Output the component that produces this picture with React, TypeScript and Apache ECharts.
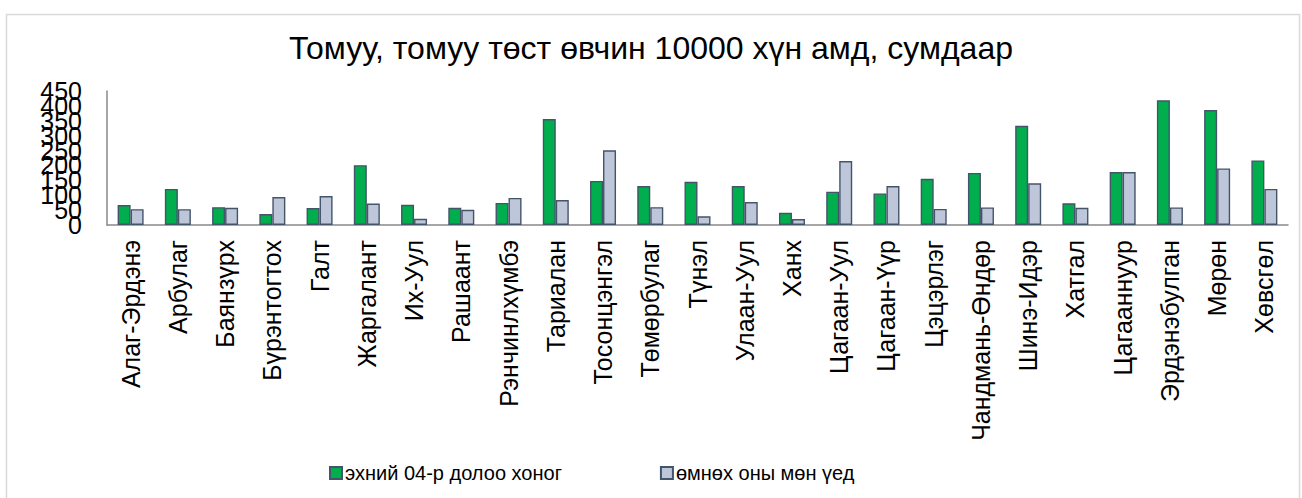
import React, { useEffect, useRef } from "react";
import * as echarts from "echarts";

const categories = [
  "Алаг-Эрдэнэ", "Арбулаг", "Баянзүрх", "Бүрэнтогтох", "Галт", "Жаргалант",
  "Их-Уул", "Рашаант", "Рэнчинлхүмбэ", "Тариалан", "Тосонцэнгэл", "Төмөрбулаг",
  "Түнэл", "Улаан-Уул", "Ханх", "Цагаан-Уул", "Цагаан-Үүр", "Цэцэрлэг",
  "Чандмань-Өндөр", "Шинэ-Идэр", "Хатгал", "Цагааннуур", "Эрдэнэбулган", "Мөрөн", "Хөвсгөл",
];

const currentWeek = [67, 121, 60, 37, 57, 201, 68, 58, 74, 356, 148, 131, 145, 131, 41, 112, 106, 155, 175, 333, 73, 178, 419, 386, 217];
const lastYear = [53, 53, 58, 94, 97, 72, 21, 51, 91, 84, 251, 60, 29, 77, 20, 215, 131, 54, 59, 140, 58, 178, 59, 190, 121];

const seriesNames = ["эхний 04-р долоо хоног", "өмнөх оны мөн үед"];
const title = "Томуу, томуу төст өвчин 10000 хүн амд, сумдаар";
const yMin = 0;
const yMax = 450;
const yStep = 50;

export default function App() {
  const ref = useRef<HTMLDivElement>(null);
  useEffect(() => {
    document.body.style.margin = "0";
    const chart = echarts.init(ref.current!, null, { renderer: "svg" });
    const font = "'Liberation Sans', Arial, sans-serif";
    const border = "#44546A";
    const yLabelBase = {
      fontSize: 25,
      color: "#000",
      margin: 25,
      fontFamily: font,
      showMinLabel: true,
      showMaxLabel: true,
    };
    chart.setOption({
      animation: false,
      textStyle: { fontFamily: font },
      graphic: [
        {
          type: "rect",
          shape: { x: 6.5, y: 14.5, width: 1293, height: 500 },
          style: { fill: "none", stroke: "#d9d9d9", lineWidth: 1.5 },
          silent: true,
        },
      ],
      title: {
        text: title,
        left: "center",
        top: 27,
        textStyle: { fontFamily: font, fontSize: 32, fontWeight: "normal", color: "#000" },
      },
      legend: {
        left: 324,
        top: 458,
        itemWidth: 12,
        itemHeight: 12,
        itemGap: 98,
        icon: "rect",
        textStyle: { fontFamily: font, fontSize: 20, color: "#000", padding: [0, 0, 0, -2] },
        data: seriesNames,
      },
      grid: { left: 107, right: 14, top: 91, bottom: 273, containLabel: false },
      xAxis: {
        type: "category",
        data: categories,
        axisLine: { lineStyle: { color: "#898989", width: 1.5 } },
        axisTick: { show: false },
        axisLabel: {
          rotate: 90,
          interval: 0,
          margin: 15,
          fontSize: 25,
          color: "#000",
          fontFamily: font,
        },
      },
      yAxis: [
        {
          type: "value",
          min: yMin,
          max: yMax,
          interval: yStep,
          axisLine: { show: true, lineStyle: { color: "#898989", width: 1.5 } },
          axisTick: { show: false },
          splitLine: { show: false },
          axisLabel: {
            ...yLabelBase,
            formatter: (v: number) => (Math.round(v / yStep) % 2 === 0 ? String(v) : ""),
          },
        },
        {
          type: "value",
          position: "left",
          min: yMin,
          max: yMax,
          interval: yStep,
          axisLine: { show: false },
          axisTick: { show: false },
          splitLine: { show: false },
          axisLabel: {
            ...yLabelBase,
            formatter: (v: number) => (Math.round(v / yStep) % 2 === 1 ? String(v) : ""),
          },
        },
      ],
      series: [
        {
          name: seriesNames[0],
          type: "bar",
          data: currentWeek,
          barWidth: 13,
          barGap: "0%",
          itemStyle: { color: "#00AE4E", borderColor: border, borderWidth: 1.4 },
        },
        {
          name: seriesNames[1],
          type: "bar",
          data: lastYear,
          barWidth: 13,
          barGap: "0%",
          itemStyle: { color: "#BEC7D9", borderColor: border, borderWidth: 1.4 },
        },
      ],
    });
    return () => chart.dispose();
  }, []);
  return <div ref={ref} style={{ width: 1302, height: 498 }} />;
}
